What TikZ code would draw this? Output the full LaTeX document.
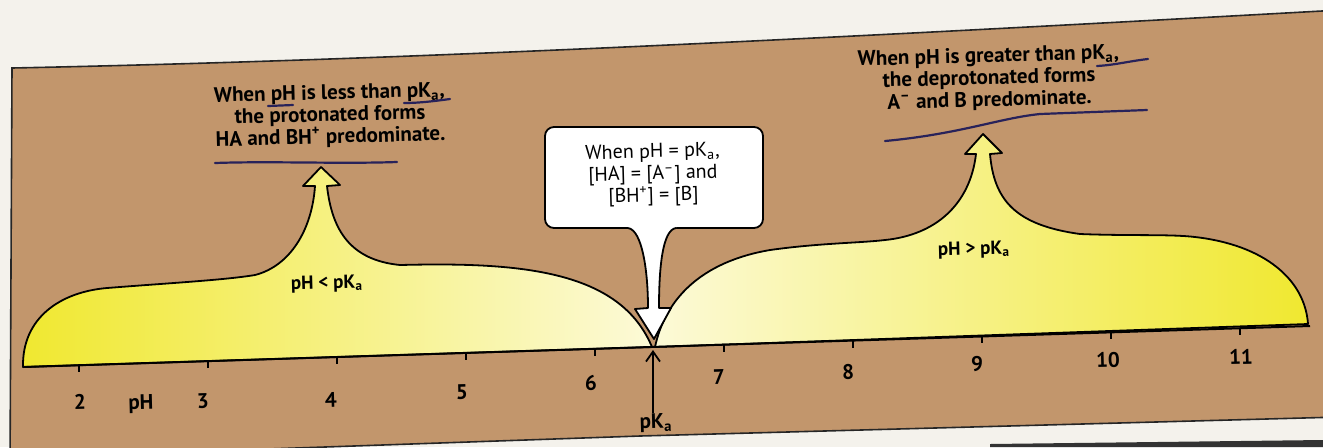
\documentclass[tikz,border=0pt]{standalone}
\usepackage{fontspec}
\setmainfont{PT Sans}
\usetikzlibrary{arrows.meta,calc}

\definecolor{tan}{RGB}{194,150,108}
\definecolor{lemon}{RGB}{240,232,48}
\definecolor{pale}{RGB}{252,250,215}
\definecolor{paper}{RGB}{244,242,236}
\definecolor{ink}{RGB}{40,34,90}

\begin{document}
\begin{tikzpicture}[x=0.5pt,y=-0.5pt,
  band/.style={fill=tan,draw=black!85,line width=0.8pt},
  lobe/.style={draw=black,line width=0.9pt,line join=round},
  pen/.style={draw=ink,line width=1.1pt,line cap=round},
  tick/.style={draw=black,line width=0.6pt},
  bubble/.style={draw=black,line width=0.9pt,fill=white,line join=round},
  note/.style={font=\bfseries\fontsize{10.5}{11}\selectfont,align=center,rotate=1.5,inner sep=0pt},
  lbl/.style={font=\bfseries\fontsize{10.5}{12}\selectfont,rotate=1.5,inner sep=0pt}]
\useasboundingbox (0,0) rectangle (1323,447);
\clip (0,0) rectangle (1323,447);
\fill[paper] (0,0) rectangle (1323,447);
% the tan strip, its top edge bends with the page
\draw[band] (10,470) -- (12,68) .. controls (400,60) and (800,40) .. (1340,10)
  -- (1340,417) -- (640,436) -- (10,458) -- cycle;
\fill[black!80] (990,444) -- (1323,440) -- (1323,447) -- (990,447) -- cycle;

% left lobe: acid side
\path[lobe,left color=lemon,middle color=lemon,right color=pale]
  (23,367) .. controls (22,318) and (60,292) .. (107,288)
  .. controls (170,283) and (225,280) .. (255,275)
  .. controls (290,266) and (312,230) .. (315,186)
  -- (303,186) -- (321,167) -- (340,185) -- (327,186)
  .. controls (332,230) and (350,260) .. (400,265)
  .. controls (520,262) and (620,270) .. (652,347) -- cycle;
% right lobe: base side
\path[lobe,left color=pale,middle color=lemon,right color=lemon]
  (655,347) .. controls (665,300) and (700,262) .. (770,250)
  .. controls (820,243) and (860,243) .. (885,240)
  .. controls (935,235) and (970,205) .. (976,154)
  -- (965,154) -- (983,134) -- (1002,153) -- (990,154)
  .. controls (994,200) and (1015,225) .. (1080,234)
  .. controls (1130,236) and (1170,234) .. (1195,237)
  .. controls (1265,245) and (1305,280) .. (1308,324) -- cycle;

% pH axis
\coordinate (axL) at (23,367);
\coordinate (axR) at (1310,326);
\draw[line width=1pt] (axL) -- (axR);
\foreach \p in {2,...,11}{
  \pgfmathsetmacro\tx{79+(\p-2)*129}
  \pgfmathsetmacro\ty{367-0.03186*(\tx-23)}
  \draw[tick] (\tx,\ty) -- ++(0,7);
}
\foreach \t/\x/\y in {2/80/402,pH/141/404,3/203/401,4/331/400,5/462/392,
                      6/591/383,7/719/377,8/848/372,9/977/364,10/1108/360,11/1241/357}
  \node[lbl] (n\t) at (\x,\y) {\t};
\node[lbl] (pka) at (656,423) {pK\textsubscript{a}};
\coordinate (pkpt) at (653,350);
\draw[line width=0.9pt,-{Straight Barb[length=5pt,width=7pt]}] (pka.north -| pkpt) -- (pkpt);

% callout at pH = pKa
\draw[bubble,rounded corners=4.5pt] (545,127) rectangle (763,228);
\fill[white] (628,226) -- (676,226) -- (676,228)
  .. controls (662,230) and (659,270) .. (659,308) -- (671,308) -- (654,339)
  -- (635,309) -- (648,308) .. controls (648,270) and (642,230) .. (628,228) -- cycle;
\draw[lobe] (676,228) .. controls (662,230) and (659,270) .. (659,308) -- (671,308)
  -- (654,339) -- (635,309) -- (648,308) .. controls (648,270) and (642,230) .. (628,228);
\node[align=center,inner sep=0pt,rotate=1.5,font=\fontsize{10}{11}\selectfont] (ctext) at (653,175)
  {When pH = pK\textsubscript{a},\\{}[HA] = [A\textsuperscript{–}] and\\{}[BH\textsuperscript{+}] = [B]};

% notes above the peaks
\node[note] (lnote) at (330,116)
  {When pH is less than pK\textsubscript{a},\\the protonated forms\\HA and BH\textsuperscript{+} predominate.};
\node[note] (rnote) at (989,79)
  {When pH is greater than pK\textsubscript{a},\\the deprotonated forms\\A\textsuperscript{–} and B predominate.};
\node[lbl,font=\bfseries\fontsize{9.5}{11}\selectfont] (llab) at (327,284) {pH < pK\textsubscript{a}};
\node[lbl,font=\bfseries\fontsize{9.5}{11}\selectfont] (rlab) at (974,250) {pH > pK\textsubscript{a}};

% pen marks on the page
\draw[pen] (268,106) -- (293,105);
\draw[pen] (404,103) .. controls (420,103) and (435,101) .. (450,99);
\draw[pen] (215,163) .. controls (270,161) and (340,164) .. (397,162);
\draw[pen] (1097,66) .. controls (1115,65) and (1130,61) .. (1148,59);
\draw[pen] (885,141) .. controls (960,134) and (1000,118) .. (1040,114) -- (1147,110);
\end{tikzpicture}
\end{document}
